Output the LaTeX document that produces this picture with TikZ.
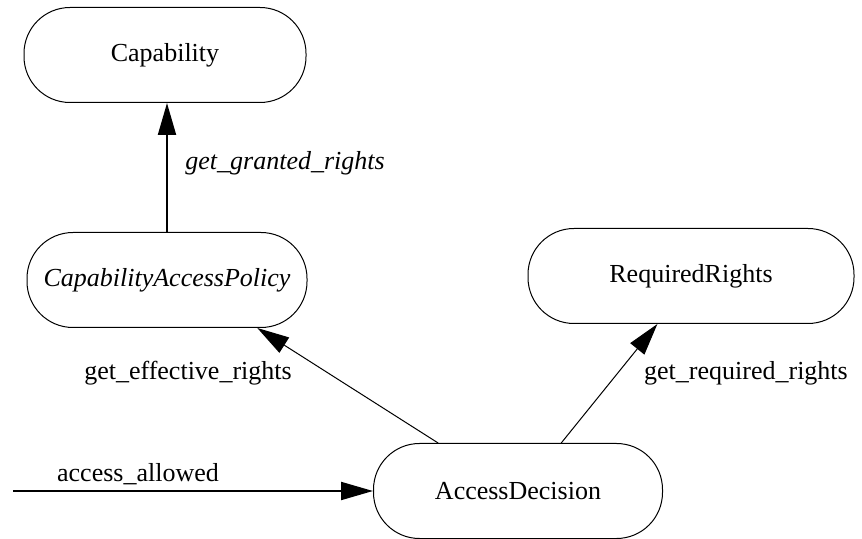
\documentclass[tikz,border=0pt]{standalone}
\usepackage{fontspec}
\setmainfont{Liberation Serif}
\usetikzlibrary{arrows.meta,positioning}

\begin{document}
\begin{tikzpicture}[x=0.5pt,y=-0.5pt,>={Triangle[length=16pt,width=9pt]},
 box/.style={draw,line width=0.5pt,rounded corners=23pt,minimum height=47.5pt,inner sep=0pt,font=\fontsize{13}{15}\selectfont},
 lbl/.style={inner sep=0pt,font=\fontsize{13}{15}\selectfont},
 arr/.style={->,line width=0.5pt},
 tarr/.style={->,line width=1pt}]
\useasboundingbox (0,0) rectangle (862,539);
\node[box,minimum width=141pt] (cap) at (165,55) {Capability};
\node[box,minimum width=140pt] (pol) at (167,280) {\itshape CapabilityAccessPolicy};
\node[box,minimum width=163pt] (req) at (691,276) {RequiredRights};
\node[box,minimum width=144.5pt] (dec) at (518,491) {AccessDecision};
\coordinate (in) at (13,491);
\draw[tarr] (pol.north) -- (pol.north |- cap.south);
\draw[arr] (dec.149) -- (pol.-28);
\draw[arr] (dec.48) -- (req.-125);
\draw[tarr] (in) -- (dec.west);
\node[lbl,anchor=west,font=\fontsize{13}{15}\selectfont\itshape] (granted) at (185,163) {get\_granted\_rights};
\node[lbl] (effective) at (188,373) {get\_effective\_rights};
\node[lbl] (required) at (746,373) {get\_required\_rights};
\node[lbl] (allowed) at (138,474) {access\_allowed};
\end{tikzpicture}
\end{document}
